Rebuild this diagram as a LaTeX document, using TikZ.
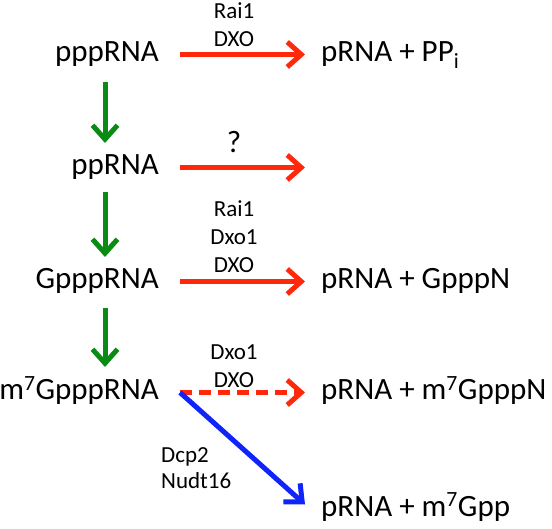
\documentclass[tikz,border=0pt]{standalone}
\usepackage{fontspec}
\setmainfont{Carlito}
\usetikzlibrary{arrows.meta,calc}
\definecolor{rxred}{RGB}{255,40,10}
\definecolor{rxgreen}{RGB}{10,140,20}
\definecolor{rxblue}{RGB}{15,35,250}
\begin{document}
\begin{tikzpicture}[x=1pt,y=-1pt,
  big/.style={font=\fontsize{31}{37}\selectfont, inner sep=0pt, text height=21pt, text depth=6pt},
  lbl/.style={font=\fontsize{23}{28}\selectfont, inner sep=0pt, anchor=base},
  arr/.style={line width=5pt, -{Straight Barb[length=14pt,width=25pt]}},
  rarr/.style={arr, draw=rxred},
  garr/.style={arr, draw=rxgreen},
  barr/.style={arr, draw=rxblue},
  dashline/.style={dash pattern=on 12pt off 7pt}
]
\useasboundingbox (0,0) rectangle (552,529);

% species
\node[big, anchor=base east] (ppp) at (159,62) {pppRNA};
\node[big, anchor=base east] (pp) at (159,175) {ppRNA};
\node[big, anchor=base east] (gppp) at (159,289) {GpppRNA};
\node[big, anchor=base east] (m7) at (159,400) {m\textsuperscript{7}GpppRNA};
\node[big, anchor=base west] (p1) at (321,62) {pRNA + PP\textsubscript{i}};
\node[big, anchor=base west] (p3) at (321,289) {pRNA + GpppN};
\node[big, anchor=base west] (p4) at (321,400) {pRNA + m\textsuperscript{7}GpppN};
\node[big, anchor=base west] (p5) at (321,516) {pRNA + m\textsuperscript{7}Gpp};

% enzyme labels
\node[lbl] (l1a) at (234,19) {Rai1};
\node[lbl] (l1b) at (234,47) {DXO};
\node[big, anchor=base] (q) at (234,153) {?};
\node[lbl] (l3a) at (234,217) {Rai1};
\node[lbl] (l3b) at (234,245) {Dxo1};
\node[lbl] (l3c) at (234,273) {DXO};
\node[lbl] (l4a) at (234,360) {Dxo1};
\node[lbl] (l4b) at (234,388) {DXO};
\node[lbl, anchor=base west] (l5a) at (161,462) {Dcp2};
\node[lbl, anchor=base west] (l5b) at (161,488) {Nudt16};

% reactions
\draw[rarr] ([xshift=21pt]ppp.east) -- ([xshift=-16pt]p1.west);
\draw[rarr] ([xshift=21pt]pp.east) -- ([xshift=146pt]pp.east);
\draw[rarr] ([xshift=21pt]gppp.east) -- ([xshift=-16pt]p3.west);
\draw[rarr, dashline] ([xshift=21pt]m7.east) -- ([xshift=-16pt]p4.west);
\draw[barr] ([xshift=21pt]m7.east) -- ([xshift=-16pt,yshift=4pt]p5.west);

% conversions
\draw[garr] ([xshift=-54pt,yshift=-20pt]ppp.base east) -- ([xshift=-54pt,yshift=32pt]pp.base east);
\draw[garr] ([xshift=-54pt,yshift=-17pt]pp.base east) -- ([xshift=-54pt,yshift=32pt]gppp.base east);
\draw[garr] ([xshift=-54pt,yshift=-19pt]gppp.base east) -- ([xshift=-54pt,yshift=33pt]m7.base east);
\end{tikzpicture}
\end{document}
